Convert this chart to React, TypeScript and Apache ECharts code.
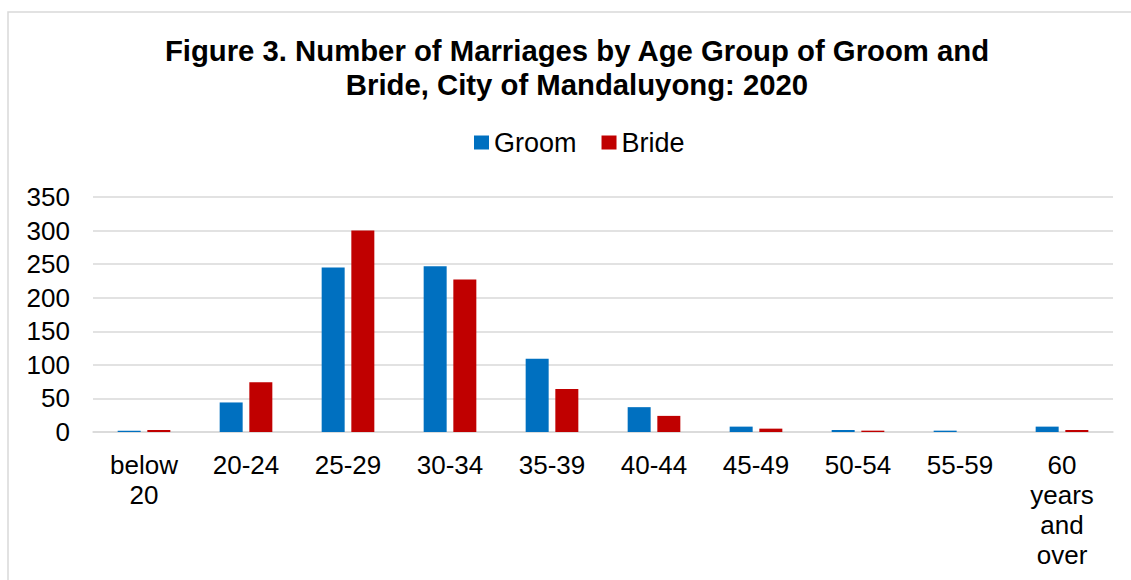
import React, { useEffect, useRef } from "react";
import * as echarts from "echarts";

const categories = ["below 20", "20-24", "25-29", "30-34", "35-39", "40-44", "45-49", "50-54", "55-59", "60 years and over"];
const groom = [2, 44, 245, 247, 109, 37, 8, 3, 2, 8];
const bride = [3, 74, 300, 227, 64, 24, 5, 2, 0, 3];
const yTicks = { min: 0, max: 350, interval: 50 };
const titleLines = ["Figure 3. Number of Marriages by Age Group of Groom and", "Bride, City of Mandaluyong: 2020"];

const FONT = "'Liberation Sans', Arial, sans-serif";

export default function App() {
  const ref = useRef<HTMLDivElement>(null);
  useEffect(() => {
    document.body.style.margin = "0";
    if (!ref.current) return;
    const chart = echarts.init(ref.current, null, { renderer: "svg" });
    chart.setOption({
      animation: false,
      backgroundColor: "#ffffff",
      title: {
        text: titleLines.join("\n"),
        left: 572,
        top: 29,
        textAlign: "center",
        textStyle: { fontFamily: FONT, fontSize: 29.3, fontWeight: "bold", color: "#000", lineHeight: 33.5 },
      },
      legend: {
        data: ["Groom", "Bride"],
        left: 469,
        top: 124,
        itemWidth: 15,
        itemHeight: 14,
        itemGap: 25,
        icon: "rect",
        textStyle: { fontFamily: FONT, fontSize: 27, color: "#000" },
      },
      graphic: [
        {
          type: "rect",
          shape: { x: 8, y: 12, width: 1300, height: 800 },
          style: { fill: "none", stroke: "#d9d9d9", lineWidth: 1.5 },
          silent: true,
        },
      ],
      grid: { left: 93, right: 18, top: 197, bottom: 148, containLabel: false },
      xAxis: {
        type: "category",
        data: categories,
        axisLine: { show: true, lineStyle: { color: "#d9d9d9", width: 1.5 } },
        axisTick: { show: false },
        axisLabel: {
          interval: 0,
          margin: 18,
          fontFamily: FONT,
          fontSize: 26,
          lineHeight: 30,
          color: "#000",
          formatter: (v: string) => v.split(" ").join("\n"),
        },
      },
      yAxis: {
        type: "value",
        min: yTicks.min,
        max: yTicks.max,
        interval: yTicks.interval,
        axisLine: { show: false },
        axisTick: { show: false },
        splitLine: { lineStyle: { color: "#d9d9d9", width: 1.5 } },
        axisLabel: { margin: 23, fontFamily: FONT, fontSize: 26, color: "#000" },
      },
      series: [
        { name: "Groom", type: "bar", data: groom, barWidth: 23, barGap: "29%", itemStyle: { color: "#0070c0" } },
        { name: "Bride", type: "bar", data: bride, barWidth: 23, itemStyle: { color: "#c00000" } },
      ],
    });
    return () => chart.dispose();
  }, []);
  return <div ref={ref} style={{ width: 1131, height: 580, overflow: "hidden" }} />;
}
